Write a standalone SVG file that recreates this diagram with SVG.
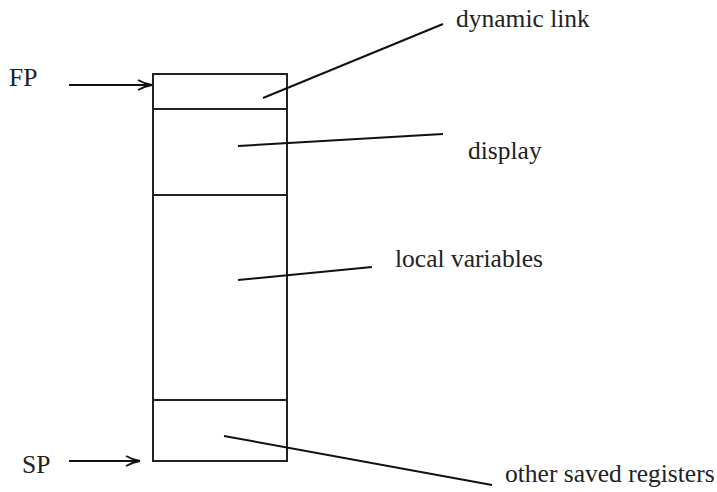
<svg xmlns="http://www.w3.org/2000/svg" width="717" height="492" viewBox="0 0 717 492">
  <style>
    .frame { fill: none; stroke: #222; stroke-width: 2; }
    .lead { stroke: #111; stroke-width: 2; fill: none; }
    text { font-family: 'Liberation Serif', 'DejaVu Serif', serif; font-size: 25.5px; fill: #222; }
  </style>
  <defs>
    <marker id="open-arrow" viewBox="0 0 16 12" refX="15" refY="6" markerWidth="16" markerHeight="12" markerUnits="userSpaceOnUse" orient="auto">
      <path d="M1,1 Q8,5 15,6 Q8,7 1,11" fill="none" stroke="#111" stroke-width="1.8"/>
    </marker>
  </defs>

  <!-- activation record frame -->
  <g id="frame">
    <rect class="frame" x="153" y="74" width="134" height="387"/>
    <line class="frame" x1="153" y1="109" x2="287" y2="109"/>
    <line class="frame" x1="153" y1="195" x2="287" y2="195"/>
    <line class="frame" x1="153" y1="400" x2="287" y2="400"/>
  </g>

  <!-- pointer labels -->
  <g id="fp">
    <text x="9" y="86">FP</text>
  </g>
  <g id="sp">
    <text x="22" y="473">SP</text>
  </g>

  <!-- field labels -->
  <g id="dynamic-link">
    <text x="456" y="27">dynamic link</text>
  </g>
  <g id="display">
    <text x="468" y="159">display</text>
  </g>
  <g id="local-variables">
    <text x="395" y="267">local variables</text>
  </g>
  <g id="other-saved-registers">
    <text x="505" y="482">other saved registers</text>
  </g>

  <!-- connectors -->
  <g id="connectors">
    <line class="lead" x1="69" y1="85" x2="152" y2="85" marker-end="url(#open-arrow)"/>
    <line class="lead" x1="69" y1="461" x2="140" y2="461" marker-end="url(#open-arrow)"/>
    <line class="lead" x1="263" y1="98" x2="443" y2="24"/>
    <line class="lead" x1="238" y1="146" x2="443" y2="134"/>
    <line class="lead" x1="238" y1="280" x2="372" y2="267"/>
    <line class="lead" x1="224" y1="436" x2="492" y2="485"/>
  </g>
</svg>
